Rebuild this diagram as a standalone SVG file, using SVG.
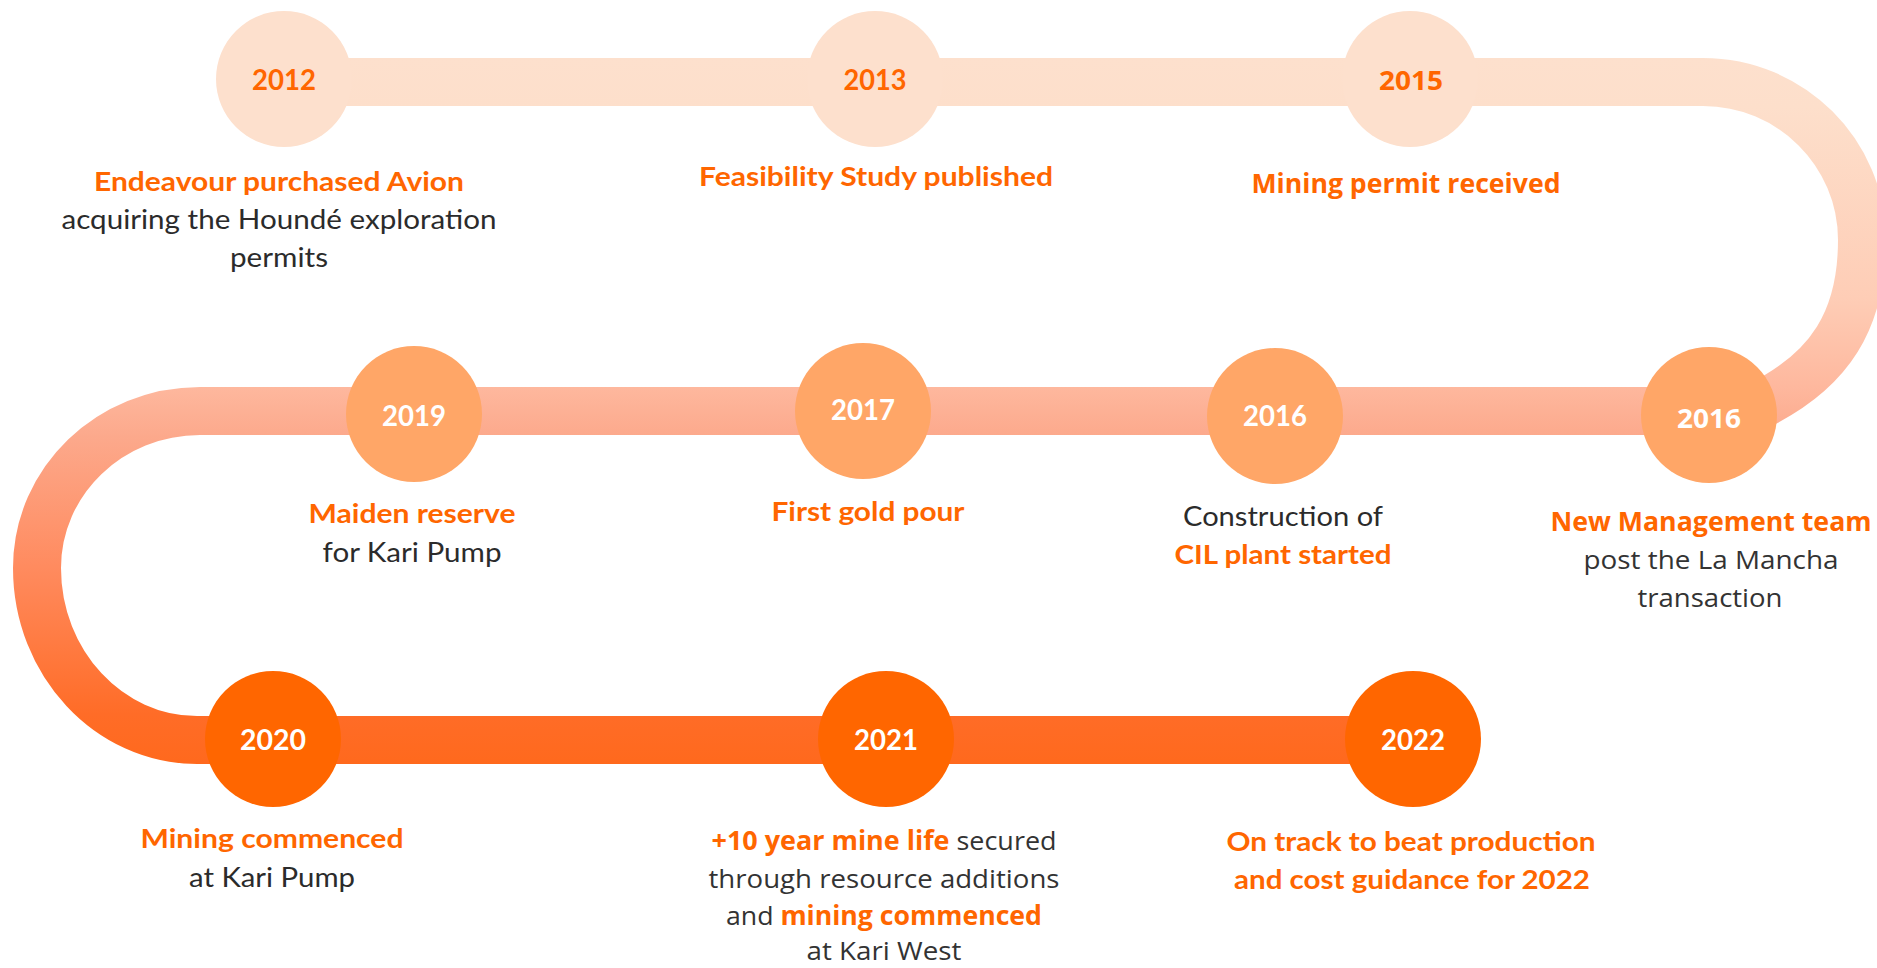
<svg xmlns="http://www.w3.org/2000/svg" width="1877" height="968" viewBox="0 0 1877 968">
  <defs>
    <!-- vertical colour ramp along the winding track -->
    <linearGradient id="trackGrad" gradientUnits="userSpaceOnUse" x1="0" y1="58" x2="0" y2="764">
      <stop offset="0" stop-color="#FDE0CD"/>
      <stop offset="0.07" stop-color="#FDDFCB"/>
      <stop offset="0.34" stop-color="#FECDB6"/>
      <stop offset="0.465" stop-color="#FEB89E"/>
      <stop offset="0.535" stop-color="#FCA98C"/>
      <stop offset="0.72" stop-color="#FF8B5F"/>
      <stop offset="0.93" stop-color="#FF6C27"/>
      <stop offset="1" stop-color="#FF691D"/>
    </linearGradient>
    <style>
      .track { fill: none; stroke: url(#trackGrad); stroke-width: 48; }
      .dot-light { fill: #FDE0CD; }
      .dot-mid { fill: #FFA667; }
      .dot-dark { fill: #FF6600; }
      .yr { font-family: Lato, "Open Sans", sans-serif; font-weight: 700; font-size: 28px; text-anchor: middle; }
      .yr-os { font-family: "Open Sans", Lato, sans-serif; font-weight: 700; font-size: 27px; text-anchor: middle; }
      .yr-o { fill: #FF6600; }
      .yr-w { fill: #FFFFFF; }
      .lb { font-family: Lato, "Open Sans", sans-serif; font-size: 27px; text-anchor: middle; fill: #2B2B2B; }
      .lb-os { font-family: "Open Sans", Lato, sans-serif; font-size: 26px; text-anchor: middle; fill: #333333; }
      .hl { font-weight: 700; fill: #FF6600; }
    </style>
  </defs>

  <!-- winding track -->
  <g id="connectors">
    <path class="track" d="M 284 82 H 1703 C 1791 82 1862 153 1862 240 C 1862 320 1830 370 1760 405 L 1735 418"/>
    <path class="track" d="M 1709 411 H 200 C 110 411 37 481 37 568 C 37 663 109 740 197 740 H 1413"/>
  </g>

  <!-- top row -->
  <g id="node-2012">
    <circle class="dot-light" cx="284" cy="79" r="68"/>
    <text class="yr yr-o" x="284" y="90" textLength="64" lengthAdjust="spacingAndGlyphs">2012</text>
    <text class="lb hl" x="279" y="191" textLength="370" lengthAdjust="spacingAndGlyphs">Endeavour purchased Avion</text>
    <text class="lb" x="279" y="229" textLength="435" lengthAdjust="spacingAndGlyphs">acquiring the Houndé exploration</text>
    <text class="lb" x="279" y="267" textLength="98" lengthAdjust="spacingAndGlyphs">permits</text>
  </g>

  <g id="node-2013">
    <circle class="dot-light" cx="875" cy="79" r="68"/>
    <text class="yr yr-o" x="875" y="90" textLength="63" lengthAdjust="spacingAndGlyphs">2013</text>
    <text class="lb hl" x="876" y="186" textLength="354" lengthAdjust="spacingAndGlyphs">Feasibility Study published</text>
  </g>

  <g id="node-2015">
    <circle class="dot-light" cx="1410" cy="79" r="68"/>
    <text class="yr-os yr-o" x="1411" y="90" textLength="64" lengthAdjust="spacingAndGlyphs">2015</text>
    <text class="lb-os hl" x="1406" y="193" textLength="309" lengthAdjust="spacingAndGlyphs">Mining permit received</text>
  </g>

  <!-- middle row -->
  <g id="node-2016-team">
    <circle class="dot-mid" cx="1709" cy="415" r="68"/>
    <text class="yr-os yr-w" x="1709" y="428" textLength="64" lengthAdjust="spacingAndGlyphs">2016</text>
    <text class="lb-os hl" x="1711" y="531" textLength="321" lengthAdjust="spacingAndGlyphs">New Management team</text>
    <text class="lb-os" x="1711" y="569" textLength="255" lengthAdjust="spacingAndGlyphs">post the La Mancha</text>
    <text class="lb-os" x="1710" y="607" textLength="145" lengthAdjust="spacingAndGlyphs">transaction</text>
  </g>

  <g id="node-2016-plant">
    <circle class="dot-mid" cx="1275" cy="416" r="68"/>
    <text class="yr yr-w" x="1275" y="426" textLength="64" lengthAdjust="spacingAndGlyphs">2016</text>
    <text class="lb" x="1283" y="526" textLength="200" lengthAdjust="spacingAndGlyphs">Construction of</text>
    <text class="lb hl" x="1283" y="564" textLength="217" lengthAdjust="spacingAndGlyphs">CIL plant started</text>
  </g>

  <g id="node-2017">
    <circle class="dot-mid" cx="863" cy="411" r="68"/>
    <text class="yr yr-w" x="863" y="420" textLength="64" lengthAdjust="spacingAndGlyphs">2017</text>
    <text class="lb hl" x="868" y="521" textLength="193" lengthAdjust="spacingAndGlyphs">First gold pour</text>
  </g>

  <g id="node-2019">
    <circle class="dot-mid" cx="414" cy="414" r="68"/>
    <text class="yr yr-w" x="414" y="426" textLength="64" lengthAdjust="spacingAndGlyphs">2019</text>
    <text class="lb hl" x="412" y="523" textLength="207" lengthAdjust="spacingAndGlyphs">Maiden reserve</text>
    <text class="lb" x="412" y="562" textLength="179" lengthAdjust="spacingAndGlyphs">for Kari Pump</text>
  </g>

  <!-- bottom row -->
  <g id="node-2020">
    <circle class="dot-dark" cx="273" cy="739" r="68"/>
    <text class="yr yr-w" x="273" y="750" textLength="66" lengthAdjust="spacingAndGlyphs">2020</text>
    <text class="lb hl" x="272" y="848" textLength="263" lengthAdjust="spacingAndGlyphs">Mining commenced</text>
    <text class="lb" x="272" y="887" textLength="166" lengthAdjust="spacingAndGlyphs">at Kari Pump</text>
  </g>

  <g id="node-2021">
    <circle class="dot-dark" cx="886" cy="739" r="68"/>
    <text class="lb-os" x="884" y="850" textLength="345" lengthAdjust="spacingAndGlyphs"><tspan class="hl">+10 year mine life</tspan> secured</text>
    <text class="yr yr-w" x="886" y="750" textLength="64" lengthAdjust="spacingAndGlyphs">2021</text>
    <text class="lb-os" x="884" y="888" textLength="351" lengthAdjust="spacingAndGlyphs">through resource additions</text>
    <text class="lb-os" x="884" y="925" textLength="316" lengthAdjust="spacingAndGlyphs">and <tspan class="hl">mining commenced</tspan></text>
    <text class="lb-os" x="884" y="960" textLength="155" lengthAdjust="spacingAndGlyphs">at Kari West</text>
  </g>

  <g id="node-2022">
    <circle class="dot-dark" cx="1413" cy="739" r="68"/>
    <text class="yr yr-w" x="1413" y="750" textLength="64" lengthAdjust="spacingAndGlyphs">2022</text>
    <text class="lb hl" x="1411" y="851" textLength="369" lengthAdjust="spacingAndGlyphs">On track to beat production</text>
    <text class="lb hl" x="1412" y="889" textLength="356" lengthAdjust="spacingAndGlyphs">and cost guidance for 2022</text>
  </g>
</svg>
